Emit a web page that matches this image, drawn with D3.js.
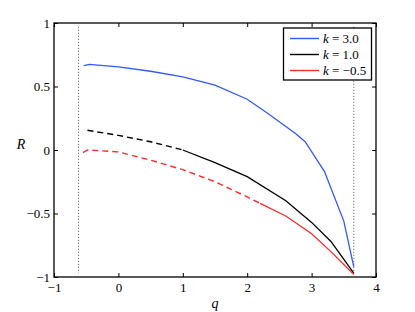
<!DOCTYPE html>
<html>
<head>
<meta charset="utf-8">
<script src="https://cdn.jsdelivr.net/npm/d3@7"></script>
<style>
  body { margin: 0; background: #fff; }
</style>
</head>
<body>
<svg id="chart" width="415" height="312"></svg>
<script>
const serif = "'Liberation Serif'";

// tick labels
const xTicks = [-1, 0, 1, 2, 3, 4];
const xTickLabels = ["\u22121", "0", "1", "2", "3", "4"];
const yTicks = [-1, -0.5, 0, 0.5, 1];
const yTickLabels = ["\u22121", "\u22120.5", "0", "0.5", "1"];

// limits of q (dotted verticals)
const qLimits = [-0.62, 3.655];

// k = 3.0
const qBlue = [-0.54, -0.45, 0, 0.5, 1.0, 1.5, 2.0, 2.3, 2.6, 2.75, 2.9, 3.2, 3.5, 3.655];
const rBlue = [0.664, 0.674, 0.655, 0.62, 0.575, 0.51, 0.40, 0.295, 0.185, 0.13, 0.065, -0.17, -0.56, -0.92];

// k = 1.0
const qBlack = [-0.48, 0, 0.5, 1.0, 1.5, 2.0, 2.6, 3.0, 3.3, 3.655];
const rBlack = [0.155, 0.115, 0.065, 0.0, -0.10, -0.21, -0.40, -0.57, -0.72, -0.97];

// k = -0.5
const qRed = [-0.55, -0.48, 0, 0.5, 1.0, 1.5, 2.0, 2.2, 2.6, 3.0, 3.3, 3.655];
const rRed = [-0.02, 0.0, -0.015, -0.08, -0.155, -0.25, -0.37, -0.42, -0.52, -0.66, -0.80, -0.98];

const legendLabels = ["3.0", "1.0", "\u22120.5"];

const series = [
    { q: qBlue, r: rBlue, color: "#3358ff", solidFrom: -Infinity },
    { q: qBlack, r: rBlack, color: "#000000", solidFrom: 1.0 },
    { q: qRed, r: rRed, color: "#ff2a2a", solidFrom: 2.2 }
];

const margin = { left: 54, right: 39, top: 23, bottom: 35 };
const width = 415, height = 312;

const svg = d3.select("#chart");

const x = d3.scaleLinear().domain([-1, 4]).range([margin.left, width - margin.right]);
const y = d3.scaleLinear().domain([-1, 1]).range([height - margin.bottom, margin.top]);

drawAxes();
drawLimits();
series.forEach(drawSeries);
drawLegend();

function drawAxes() {
    const tick = 4;

    const bottom = svg.append("g")
        .attr("transform", `translate(0,${y(-1)})`)
        .call(d3.axisBottom(x).tickValues(xTicks)
            .tickFormat((d, i) => xTickLabels[i]).tickSize(-tick).tickPadding(6));
    const top = svg.append("g")
        .attr("transform", `translate(0,${y(1)})`)
        .call(d3.axisTop(x).tickValues(xTicks).tickFormat("").tickSize(-tick));
    const left = svg.append("g")
        .attr("transform", `translate(${x(-1)},0)`)
        .call(d3.axisLeft(y).tickValues(yTicks)
            .tickFormat((d, i) => yTickLabels[i]).tickSize(-tick).tickPadding(4));
    const right = svg.append("g")
        .attr("transform", `translate(${x(4)},0)`)
        .call(d3.axisRight(y).tickValues(yTicks).tickFormat("").tickSize(-tick));

    [bottom, top, left, right].forEach(g => {
        g.attr("font-family", null).attr("font-size", null);
        g.select(".domain").remove();
        g.selectAll("line").attr("stroke", "#000").attr("stroke-width", 1);
        g.selectAll("text")
            .attr("fill", "#000")
            .style("font-family", serif)
            .style("font-size", "13px");
    });

    svg.append("rect")
        .attr("x", x(-1))
        .attr("y", y(1))
        .attr("width", x(4) - x(-1))
        .attr("height", y(-1) - y(1))
        .attr("fill", "none")
        .attr("stroke", "#000")
        .attr("stroke-width", 1.3);

    svg.append("text")
        .attr("x", (x(-1) + x(4)) / 2)
        .attr("y", 308)
        .attr("text-anchor", "middle")
        .style("font-family", serif)
        .style("font-size", "14px")
        .style("font-style", "italic")
        .text("q");

    svg.append("text")
        .attr("x", 21)
        .attr("y", 149)
        .attr("text-anchor", "middle")
        .style("font-family", serif)
        .style("font-size", "14px")
        .style("font-style", "italic")
        .text("R");
}

function drawLimits() {
    svg.selectAll("line.limit")
        .data(qLimits)
        .join("line")
        .attr("class", "limit")
        .attr("x1", d => x(d))
        .attr("x2", d => x(d))
        .attr("y1", y(0.97))
        .attr("y2", y(-0.97))
        .attr("stroke", "#555")
        .attr("stroke-width", 1)
        .attr("stroke-dasharray", "1,2");
}

function drawSeries(s) {
    const pts = s.q.map((q, i) => [q, s.r[i]]);
    const line = d3.line().x(d => x(d[0])).y(d => y(d[1]));

    const dashed = pts.filter(d => d[0] <= s.solidFrom);
    const solid = pts.filter(d => d[0] >= s.solidFrom);

    if (dashed.length > 1) {
        svg.append("path")
            .attr("d", line(dashed))
            .attr("fill", "none")
            .attr("stroke", s.color)
            .attr("stroke-width", 1.4)
            .attr("stroke-dasharray", "6,4");
    }
    svg.append("path")
        .attr("d", line(solid))
        .attr("fill", "none")
        .attr("stroke", s.color)
        .attr("stroke-width", 1.3);
}

function drawLegend() {
    const lg = svg.append("g");

    lg.append("rect")
        .attr("x", 283.5)
        .attr("y", 28)
        .attr("width", 88)
        .attr("height", 52)
        .attr("fill", "#fff")
        .attr("stroke", "#000")
        .attr("stroke-width", 1.3);

    const rows = lg.selectAll("g.row")
        .data(series)
        .join("g")
        .attr("class", "row")
        .attr("transform", (d, i) => `translate(0,${38.5 + i * 16})`);

    rows.append("line")
        .attr("x1", 290)
        .attr("x2", 319)
        .attr("stroke", d => d.color)
        .attr("stroke-width", 1.4);

    const label = rows.append("text")
        .attr("x", 323)
        .attr("y", 4.5)
        .style("font-family", serif)
        .style("font-size", "13px");
    label.append("tspan").style("font-style", "italic").text("k");
    label.append("tspan").text((d, i) => " = " + legendLabels[i]);
}
</script>
</body>
</html>
